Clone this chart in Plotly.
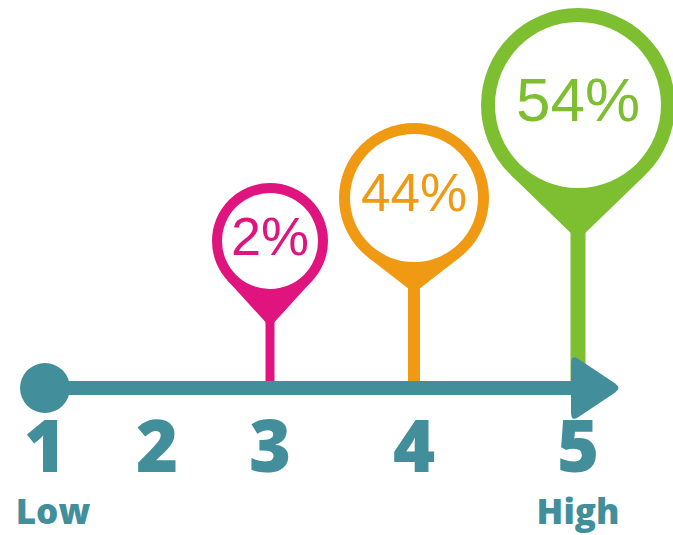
import math
import plotly.graph_objects as go

# ---------------- data ----------------
levels = [1, 2, 3, 4, 5]
level_labels = ["1", "2", "3", "4", "5"]
end_labels = ["Low", "High"]
pin_levels = [3, 4, 5]
pin_values = [2, 44, 54]  # percent

# ---------------- layout / style (pixels) ----------------
W, H = 673, 535
level_px = [45, 157, 270, 414, 578]
axis_y = 388
TEAL = "#428F9B"
pin_colors = ["#E0147F", "#F09A14", "#7DBF30"]
pin_outer = [58, 75, 97]
pin_ring = [10, 11, 14]
pin_cy = [241, 198, 105]
pin_tip = [327, 293, 240]
pin_stem = [9, 12, 15]
pin_font = [54, 53, 62]

shapes = []
fig = go.Figure()

# pins
for lvl, val, col, R, ring, cy, tip, sw, fs in zip(pin_levels, pin_values, pin_colors, pin_outer,
                                                  pin_ring, pin_cy, pin_tip, pin_stem, pin_font):
    cx = level_px[levels.index(lvl)]
    # stem
    shapes.append(dict(type="line", x0=cx, x1=cx, y0=tip - 2 * sw, y1=axis_y,
                       line=dict(color=col, width=sw), layer="below"))
    # cone (tangent triangle)
    d = tip - cy
    a = math.acos(R / d)
    px = R * math.sin(a)
    py = cy + R * math.cos(a)
    shapes.append(dict(type="path",
                       path=f"M {cx} {tip} L {cx + px:.2f} {py:.2f} L {cx - px:.2f} {py:.2f} Z",
                       fillcolor=col, line=dict(width=0), layer="below"))
    # outer circle
    shapes.append(dict(type="circle", x0=cx - R, x1=cx + R, y0=cy - R, y1=cy + R,
                       fillcolor=col, line=dict(width=0), layer="below"))
    # inner circle
    r = R - ring
    shapes.append(dict(type="circle", x0=cx - r, x1=cx + r, y0=cy - r, y1=cy + r,
                       fillcolor="white", line=dict(width=0), layer="below"))
    fig.add_trace(go.Scatter(x=[cx], y=[cy], mode="text", text=[f"{val}%"],
                             textposition="middle center",
                             textfont=dict(family="Liberation Sans, Arial", size=fs, color=col),
                             hoverinfo="skip", showlegend=False))

# axis line
x_start = level_px[0]
x_base = level_px[-1] - 7
x_tip = level_px[-1] + 44
shapes.append(dict(type="rect", x0=x_start, x1=x_base + 4, y0=axis_y - 7, y1=axis_y + 7,
                   fillcolor=TEAL, line=dict(width=0), layer="below"))
# start dot
shapes.append(dict(type="circle", x0=x_start - 25, x1=x_start + 25, y0=axis_y - 25, y1=axis_y + 25,
                   fillcolor=TEAL, line=dict(width=0), layer="below"))
# arrow head with rounded corners
A = (x_base, axis_y - 34)
B = (x_tip, axis_y)
C = (x_base, axis_y + 34)


def lerp(p, q, t):
    return (p[0] + (q[0] - p[0]) * t, p[1] + (q[1] - p[1]) * t)


t = 0.14
pts = [A, B, C]
path = ""
for i in range(3):
    P = pts[i]
    N = pts[(i + 1) % 3]
    Pr = pts[(i - 1) % 3]
    s = lerp(P, Pr, t)
    e = lerp(P, N, t)
    if i == 0:
        path += f"M {s[0]:.2f} {s[1]:.2f} "
    else:
        path += f"L {s[0]:.2f} {s[1]:.2f} "
    path += f"Q {P[0]:.2f} {P[1]:.2f} {e[0]:.2f} {e[1]:.2f} "
path += "Z"
shapes.append(dict(type="path", path=path, fillcolor=TEAL, line=dict(width=0), layer="below"))

# level numbers
fig.add_trace(go.Scatter(x=level_px, y=[454] * len(levels), mode="text", text=level_labels,
                         textposition="middle center",
                         textfont=dict(family="Open Sans", size=72, color=TEAL, weight=800),
                         hoverinfo="skip", showlegend=False))
# low / high
fig.add_trace(go.Scatter(x=[level_px[0] + 8, level_px[-1]], y=[515, 515], mode="text", text=end_labels,
                         textposition="middle center",
                         textfont=dict(family="Open Sans", size=35, color=TEAL, weight=800),
                         hoverinfo="skip", showlegend=False))

fig.update_layout(
    width=W, height=H, autosize=False,
    margin=dict(l=0, r=0, t=0, b=0),
    paper_bgcolor="white", plot_bgcolor="white",
    shapes=shapes,
    xaxis=dict(range=[0, W], visible=False, fixedrange=True),
    yaxis=dict(range=[H, 0], visible=False, fixedrange=True),
    showlegend=False,
)
fig.write_html("out.html",
               post_script="document.body.style.margin='0';document.body.style.overflow='hidden';",
               config={"displayModeBar": False})
